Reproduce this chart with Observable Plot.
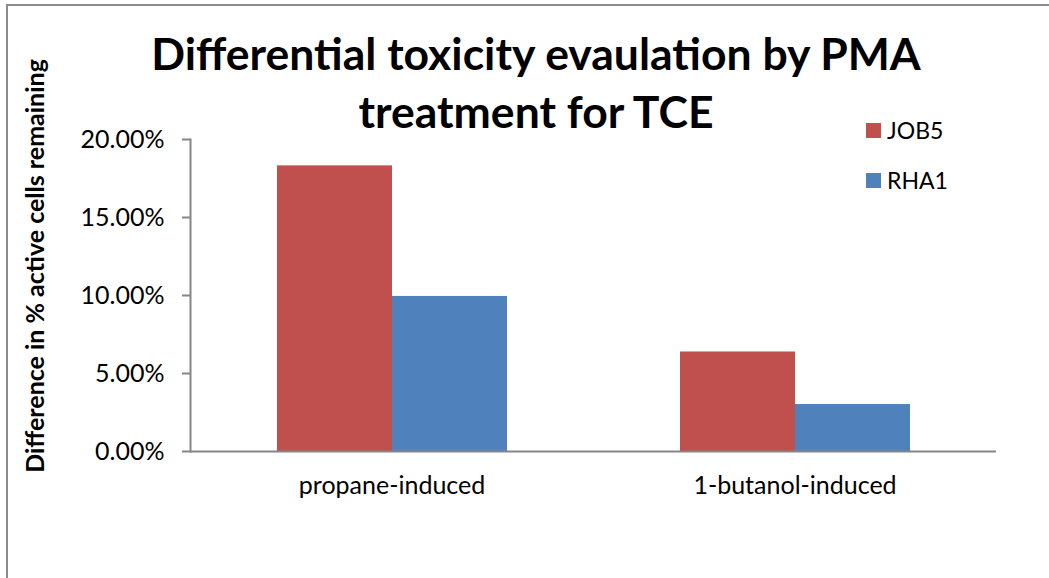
<!DOCTYPE html>
<html>
<head>
<meta charset="utf-8">
<script src="https://cdn.jsdelivr.net/npm/d3@7"></script>
<script src="https://cdn.jsdelivr.net/npm/@observablehq/plot@0.6"></script>
<style>
  html, body { margin: 0; padding: 0; background: #fff; overflow: hidden; }
  #wrap { position: relative; width: 1049px; height: 578px; font-family: Lato, "Open Sans", sans-serif; }
  #border { position: absolute; left: 6px; top: 4px; width: 1200px; height: 800px; border-left: 2px solid #8c8c8c; border-top: 2px solid #8c8c8c; }
  #chart { position: absolute; left: 0; top: 0; }
  #chart svg text { fill: #000; }
  #title { position: absolute; left: 86px; width: 900px; top: 24px; text-align: center; font-weight: bold; font-size: 44.5px; line-height: 58px; color: #000; }
  #ylabel { position: absolute; left: 34px; top: 266px; transform: translate(-50%, -50%) rotate(-90deg); white-space: nowrap; font-weight: bold; font-size: 25px; color: #000; }
  .leg { position: absolute; left: 866px; display: flex; align-items: center; font-size: 23px; color: #000; }
  .leg span.sw { display: inline-block; width: 15px; height: 15px; margin-right: 6px; }
</style>
</head>
<body>
<div id="wrap">
  <div id="border"></div>
  <div id="chart"></div>
  <div id="title">Differential toxicity evaulation by PMA<br>treatment for TCE</div>
  <div id="ylabel">Difference in % active cells remaining</div>
  <div id="legend"></div>
</div>
<script>
const categories = ["propane-induced", "1-butanol-induced"];
const series = ["JOB5", "RHA1"];
const job5 = [0.1831, 0.0638];
const rha1 = [0.0994, 0.0301];
const colors = ["#C0504D", "#4F81BD"];
const yTicks = [0, 0.05, 0.10, 0.15, 0.20];

const values = {JOB5: job5, RHA1: rha1};
const data = [];
categories.forEach((c, i) => series.forEach(s => data.push({cat: c, series: s, value: values[s][i]})));

const axisGray = "#868686";

const chart = Plot.plot({
  width: 1049,
  height: 578,
  marginLeft: 189,
  marginRight: 53,
  marginTop: 139,
  marginBottom: 127,
  style: {fontFamily: "Lato, 'Open Sans', sans-serif", fontSize: "25px", background: "transparent", color: "#000"},
  fx: {domain: categories, padding: 0, label: null},
  x: {domain: series, paddingInner: 0, paddingOuter: 0.747, axis: null},
  y: {domain: [0, 0.2], label: null},
  color: {domain: series, range: colors},
  marks: [
    Plot.barY(data, {fx: "cat", x: "series", y: "value", fill: "series"}),
    Plot.ruleY([0], {stroke: axisGray, strokeWidth: 2}),
    Plot.frame({anchor: "left", facetAnchor: "left", stroke: axisGray, strokeWidth: 2}),
    Plot.axisY({ticks: yTicks, tickFormat: d3.format(".2%"), tickSize: 8, tickPadding: 18, stroke: axisGray, strokeWidth: 2, fill: "#000", fontSize: 25, label: null}),
    Plot.axisFx({anchor: "bottom", tickSize: 0, tickPadding: 25, fill: "#000", fontSize: 25, label: null})
  ]
});
document.getElementById("chart").appendChild(chart);

const legend = document.getElementById("legend");
series.forEach((s, i) => {
  const d = document.createElement("div");
  d.className = "leg";
  d.style.top = (115 + i * 50) + "px";
  d.style.height = "30px";
  d.innerHTML = `<span class="sw" style="background:${colors[i]}"></span><span>${s}</span>`;
  legend.appendChild(d);
});
</script>
</body>
</html>
